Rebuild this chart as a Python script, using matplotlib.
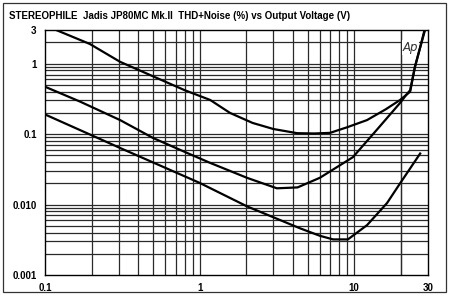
import matplotlib
matplotlib.use("Agg")
import matplotlib.pyplot as plt
from matplotlib.patches import Rectangle
from matplotlib.ticker import FixedLocator, NullFormatter

# Output voltage (V) vs THD+N (%)
top_v = [0.118, 0.195, 0.306, 0.5, 0.8, 1.17, 1.57, 2.2, 3.0, 4.27, 5.5, 6.97, 9.0, 12.1, 16.0, 19.8, 23.0, 24.7, 26.5, 28.7]
top_thd = [3.0, 1.9, 1.06, 0.66, 0.42, 0.305, 0.2, 0.144, 0.118, 0.103, 0.102, 0.104, 0.125, 0.158, 0.225, 0.305, 0.40, 0.90, 1.6, 3.0]

mid_v = [0.1, 0.168, 0.306, 0.5, 0.83, 1.17, 2.03, 3.16, 4.3, 6.0, 9.8, 14.0, 19.8, 21.7, 23.0, 24.7, 26.5, 28.5]
mid_thd = [0.47, 0.29, 0.158, 0.088, 0.054, 0.039, 0.0239, 0.017, 0.0175, 0.024, 0.047, 0.115, 0.277, 0.36, 0.42, 0.90, 1.6, 3.0]

low_v = [0.1, 0.306, 1.0, 2.03, 4.46, 6.0, 7.3, 9.1, 12.1, 16.3, 19.8, 26.7]
low_thd = [0.19, 0.0635, 0.0203, 0.0094, 0.0046, 0.0036, 0.0032, 0.0032, 0.0051, 0.0105, 0.020, 0.053]

x_ticks = [0.1, 1, 10, 30]
x_labels = ["0.1", "1", "10", "30"]
y_ticks = [0.001, 0.01, 0.1, 1, 3]
y_labels = ["0.001", "0.010", "0.1", "1", "3"]

title = "STEREOPHILE  Jadis JP80MC Mk.II  THD+Noise (%) vs Output Voltage (V)"

fig = plt.figure(figsize=(4.5, 2.98), dpi=100)
fig.patch.set_facecolor("white")
fig.patches.append(Rectangle((3 / 450, 6 / 298), 443 / 450, 289 / 298,
                             transform=fig.transFigure, fill=False,
                             edgecolor="#333333", linewidth=0.9))

ax = fig.add_axes([45 / 450, 1 - 275 / 298, 383 / 450, 245 / 298])
ax.set_xscale("log")
ax.set_yscale("log")
ax.set_xlim(0.1, 30)
ax.set_ylim(0.001, 3)

# grid lines at 1..9 of each decade
xgrid = [m * 10.0 ** e for e in (-1, 0, 1) for m in range(1, 10)] + [20]
xgrid = [g for g in xgrid if 0.1 < g < 30]
ygrid = [m * 10.0 ** e for e in (-3, -2, -1, 0) for m in range(1, 10)]
ygrid = [g for g in ygrid if 0.001 < g < 3]
for g in xgrid:
    ax.axvline(g, color="#2a2a2a", linewidth=0.9, zorder=1)
for g in ygrid:
    ax.axhline(g, color="#2a2a2a", linewidth=0.9, zorder=1)

for v, t in ((top_v, top_thd), (mid_v, mid_thd), (low_v, low_thd)):
    ax.plot(v, t, color="black", linewidth=1.6, zorder=3, solid_joinstyle="round")

ax.xaxis.set_major_locator(FixedLocator(x_ticks))
ax.xaxis.set_minor_locator(FixedLocator([]))
ax.xaxis.set_minor_formatter(NullFormatter())
ax.set_xticklabels(x_labels)
ax.yaxis.set_major_locator(FixedLocator(y_ticks))
ax.yaxis.set_minor_locator(FixedLocator([]))
ax.yaxis.set_minor_formatter(NullFormatter())
ax.set_yticklabels(y_labels)
ax.tick_params(length=0, labelsize=7, pad=6)
for lab in ax.get_xticklabels() + ax.get_yticklabels():
    lab.set_fontweight("bold")
    lab.set_family("Liberation Sans")
for s in ax.spines.values():
    s.set_color("black")
    s.set_linewidth(1.0)

ax.text(0.975, 0.955, "Ap", transform=ax.transAxes, ha="right", va="top",
        fontsize=8.5, style="italic", family="DejaVu Sans", color="#333333",
        bbox=dict(facecolor="white", edgecolor="none", pad=0.5), zorder=2)

fig.text(9 / 450, 1 - 16 / 298, title, ha="left", va="center", fontsize=7,
         fontweight="bold", family="Liberation Sans")

fig.savefig("out.png", dpi=100)
